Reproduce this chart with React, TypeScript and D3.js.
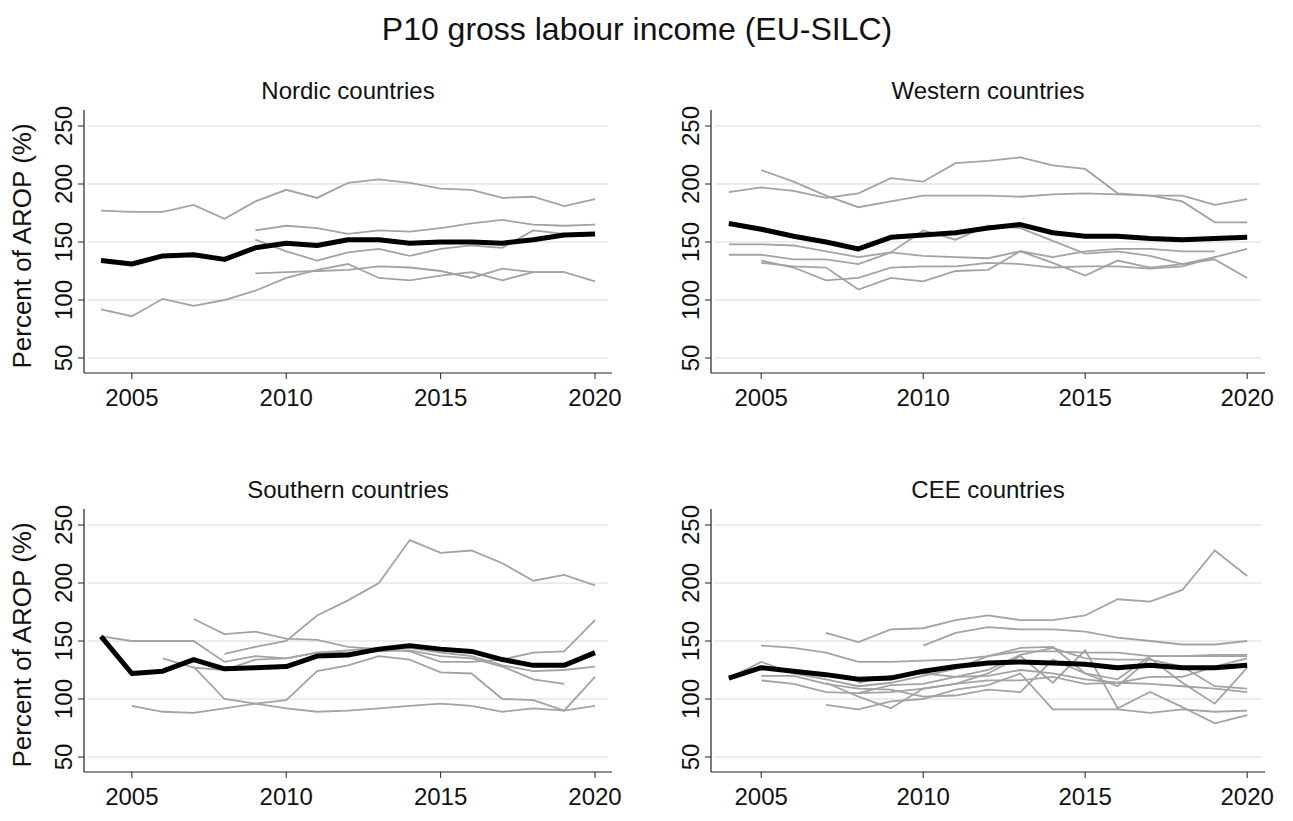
import React, { useEffect, useRef } from 'react';
import * as d3 from 'd3';

type Series = [number, number][];

// [year, value]
const s = (start: number, vals: number[]): Series => vals.map((v, i) => [start + i, v]);

const nordicAvg = s(2004, [134, 131, 138, 139, 135, 145, 149, 147, 152, 152, 149, 150, 150, 149, 152, 156, 157]);
const nordic: Series[] = [
  s(2004, [177, 176, 176, 182, 170, 185, 195, 188, 201, 204, 201, 196, 195, 188, 189, 181, 187]),
  s(2004, [92, 86, 101, 95, 100, 108, 119, 126, 131, 119, 117, 121, 124, 117, 124, 124]),
  s(2009, [160, 164, 162, 157, 160, 159, 162, 166, 169, 165, 164, 165]),
  s(2009, [152, 142, 134, 141, 144, 138, 144, 147, 145, 160, 157, 157]),
  s(2009, [123, 124, 125, 126, 129, 128, 125, 119, 127, 124, 124, 116]),
];

const westernAvg = s(2004, [166, 161, 155, 150, 144, 154, 156, 158, 162, 165, 158, 155, 155, 153, 152, 153, 154]);
const western: Series[] = [
  s(2005, [212, 202, 190, 180, 185, 190, 190, 190, 189, 191, 192, 191, 190, 185, 167, 167]),
  s(2004, [193, 197, 194, 188, 192, 205, 202, 218, 220, 223, 216, 213, 192, 190, 190, 182, 187]),
  s(2004, [139, 139, 135, 135, 131, 141, 138, 137, 136, 142, 137, 142, 144, 144, 142, 142]),
  s(2004, [148, 148, 147, 142, 137, 141, 160, 152, 164, 162, 151, 140, 142, 138, 131, 135, 119]),
  s(2005, [132, 129, 128, 109, 119, 116, 125, 126, 142, 132, 121, 134, 128, 131, 137, 144]),
  s(2005, [134, 128, 117, 119, 128, 129, 129, 132, 131, 128, 129, 129, 127, 129, 137]),
];

const southernAvg = s(2004, [154, 122, 124, 134, 126, 127, 128, 137, 138, 143, 146, 143, 141, 134, 129, 129, 140]);
const southern: Series[] = [
  s(2008, [139, 145, 150, 172, 185, 200, 237, 226, 228, 217, 202, 207, 198]),
  s(2007, [169, 156, 158, 152, 151, 145, 143, 144, 140, 137, 129, 124, 125, 128]),
  s(2004, [154, 150, 150, 150, 132, 137, 135, 140, 142, 144, 141, 132, 132, 134, 140, 141, 168]),
  s(2005, [94, 89, 88, 92, 96, 92, 89, 90, 92, 94, 96, 94, 89, 92, 90, 94]),
  s(2007, [128, 100, 96, 99, 124, 129, 137, 134, 123, 122, 100, 99, 90, 119]),
  s(2006, [135, 127, 125, 134, 135, 140, 140, 141, 142, 137, 135, 128, 117, 113]),
];

const ceeAvg = s(2004, [118, 127, 124, 121, 117, 118, 124, 128, 131, 132, 131, 130, 127, 129, 127, 127, 129]);
const cee: Series[] = [
  s(2007, [157, 149, 160, 161, 168, 172, 168, 168, 172, 186, 184, 194, 228, 206]),
  s(2010, [146, 157, 162, 160, 160, 158, 153, 150, 147, 147, 150]),
  s(2005, [146, 144, 140, 132, 132, 133, 134, 137, 141, 141, 140, 140, 137, 137, 138, 138]),
  s(2004, [118, 132, 122, 117, 111, 114, 120, 126, 137, 144, 145, 122, 117, 137, 137, 137, 137]),
  s(2005, [120, 120, 113, 109, 108, 102, 103, 108, 106, 134, 122, 111, 135, 114, 96, 127]),
  s(2005, [116, 113, 106, 105, 106, 109, 113, 116, 116, 119, 113, 114, 113, 111, 109, 106]),
  s(2007, [95, 91, 98, 100, 108, 112, 122, 91, 91, 91, 88, 91, 89, 90]),
  s(2007, [114, 102, 92, 109, 113, 122, 137, 114, 142, 92, 106, 93, 79, 86]),
  s(2008, [105, 112, 113, 119, 125, 138, 144, 135, 134, 134, 128, 111, 109]),
  s(2008, [114, 120, 122, 119, 120, 125, 122, 117, 114, 119, 119, 128, 135]),
];

const yTicks = [50, 100, 150, 200, 250];
const xTicks = [2005, 2010, 2015, 2020];

const panels = [
  { title: 'Nordic countries', avg: nordicAvg, lines: nordic, x0: 84, x1: 612, yTop: 126, yBot: 358, ylab: true },
  { title: 'Western countries', avg: westernAvg, lines: western, x0: 711, x1: 1265, yTop: 126, yBot: 358, ylab: false },
  { title: 'Southern countries', avg: southernAvg, lines: southern, x0: 84, x1: 612, yTop: 525, yBot: 757, ylab: true },
  { title: 'CEE countries', avg: ceeAvg, lines: cee, x0: 711, x1: 1265, yTop: 525, yBot: 757, ylab: false },
];

const App: React.FC = () => {
  const ref = useRef<SVGSVGElement>(null);

  useEffect(() => {
    const svg = d3.select(ref.current).html('');
    const font = 'Liberation Sans, Arial, sans-serif';

    svg.append('text')
      .attr('x', 637).attr('y', 40).attr('text-anchor', 'middle')
      .attr('font-family', font).attr('font-size', 32).attr('fill', '#111')
      .text('P10 gross labour income (EU-SILC)');

    panels.forEach(p => {
      const x = d3.scaleLinear().domain([2003.45, 2020.55]).range([p.x0, p.x1]);
      const y = d3.scaleLinear().domain([50, 250]).range([p.yBot, p.yTop]);
      const axisY = p.yBot + 15;
      const topY = p.yTop - 16;
      const g = svg.append('g');

      g.append('text')
        .attr('x', (p.x0 + p.x1) / 2).attr('y', p.yTop - 27).attr('text-anchor', 'middle')
        .attr('font-family', font).attr('font-size', 24).attr('fill', '#111')
        .text(p.title);

      g.selectAll('line.grid').data(yTicks).enter().append('line')
        .attr('x1', p.x0 + 4).attr('x2', p.x1 - 4)
        .attr('y1', d => y(d)).attr('y2', d => y(d))
        .attr('stroke', '#e6e6e6').attr('stroke-width', 1.3);

      // axes
      g.append('line').attr('x1', p.x0).attr('x2', p.x0).attr('y1', topY).attr('y2', axisY)
        .attr('stroke', '#222').attr('stroke-width', 1.2);
      g.append('line').attr('x1', p.x0).attr('x2', p.x1).attr('y1', axisY).attr('y2', axisY)
        .attr('stroke', '#222').attr('stroke-width', 1.2);

      yTicks.forEach(t => {
        g.append('line').attr('x1', p.x0 - 6).attr('x2', p.x0).attr('y1', y(t)).attr('y2', y(t))
          .attr('stroke', '#222');
        g.append('text')
          .attr('transform', `translate(${p.x0 - 12},${y(t)}) rotate(-90)`)
          .attr('text-anchor', 'middle')
          .attr('font-family', font).attr('font-size', 24).attr('fill', '#111')
          .text(t);
      });
      xTicks.forEach(t => {
        g.append('line').attr('x1', x(t)).attr('x2', x(t)).attr('y1', axisY).attr('y2', axisY + 6)
          .attr('stroke', '#222');
        g.append('text')
          .attr('x', x(t)).attr('y', axisY + 33).attr('text-anchor', 'middle')
          .attr('font-family', font).attr('font-size', 24).attr('fill', '#111')
          .text(t);
      });

      if (p.ylab) {
        g.append('text')
          .attr('transform', `translate(31,${(p.yTop + p.yBot) / 2 + 4}) rotate(-90)`)
          .attr('text-anchor', 'middle')
          .attr('font-family', font).attr('font-size', 26).attr('fill', '#111')
          .text('Percent of AROP (%)');
      }

      const line = d3.line<[number, number]>().x(d => x(d[0])).y(d => y(d[1]));
      p.lines.forEach(l => {
        g.append('path').attr('d', line(l)!).attr('fill', 'none')
          .attr('stroke', '#a3a3a3').attr('stroke-width', 1.8);
      });
      g.append('path').attr('d', line(p.avg)!).attr('fill', 'none')
        .attr('stroke', '#000').attr('stroke-width', 5).attr('stroke-linejoin', 'round');
    });
  }, []);

  return <svg ref={ref} width={1293} height={821} style={{ display: 'block', margin: -8, background: '#fff' }} />;
};

export default App;
